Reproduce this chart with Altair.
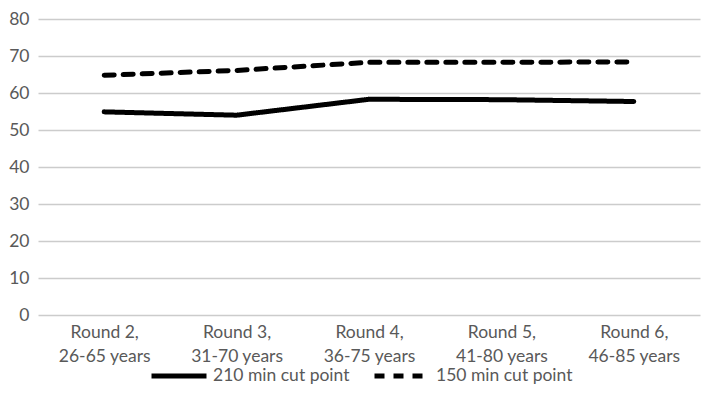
import altair as alt
import pandas as pd

rounds = ["Round 2,|26-65 years", "Round 3,|31-70 years", "Round 4,|36-75 years",
          "Round 5,|41-80 years", "Round 6,|46-85 years"]
series_names = ["210 min cut point", "150 min cut point"]
vals_210 = [54.9, 54.0, 58.3, 58.2, 57.7]
vals_150 = [64.8, 66.1, 68.3, 68.3, 68.4]

rows = []
for r, v in zip(rounds, vals_210):
    rows.append({"round": r, "series": series_names[0], "value": v})
for r, v in zip(rounds, vals_150):
    rows.append({"round": r, "series": series_names[1], "value": v})
df = pd.DataFrame(rows)

FONT = "Lato"
TXT = "#595959"
FS = 17.5

chart = alt.Chart(df).mark_line(strokeWidth=5, color="black", strokeCap="round").encode(
    x=alt.X("round:N", sort=rounds, title=None,
            scale=alt.Scale(type="point", padding=0.5),
            axis=alt.Axis(labelExpr="split(datum.value, '|')", labelAngle=0,
                          ticks=False, domain=False, grid=False,
                          labelPadding=8, labelLineHeight=24,
                          labelFontSize=FS, labelColor=TXT, labelFont=FONT)),
    y=alt.Y("value:Q", title=None,
            scale=alt.Scale(domain=[0, 80]),
            axis=alt.Axis(values=list(range(0, 81, 10)), ticks=False, domain=False,
                          grid=True, gridColor="#cccccc", gridWidth=1.5,
                          labelPadding=9, labelFontSize=FS, labelColor=TXT,
                          labelFont=FONT)),
    strokeDash=alt.StrokeDash("series:N", sort=series_names,
                              scale=alt.Scale(domain=series_names, range=[[1, 0], [10, 9]]),
                              legend=alt.Legend(title=None, orient="none", legendX=111, legendY=327,
                                                direction="horizontal", columns=2,
                                                symbolType="stroke", symbolSize=3025,
                                                symbolStrokeWidth=5, symbolStrokeColor="black",
                                                labelFontSize=FS, labelColor=TXT, labelFont=FONT,
                                                labelOffset=4, columnPadding=14, padding=0)),
    detail="series:N",
).properties(
    width=662, height=296,
    autosize=alt.AutoSizeParams(type="none"),
    padding={"left": 30, "top": 11, "right": 4, "bottom": 87},
).configure_view(stroke=None)

chart.save("out.html", embed_options={"renderer": "svg", "actions": False})
